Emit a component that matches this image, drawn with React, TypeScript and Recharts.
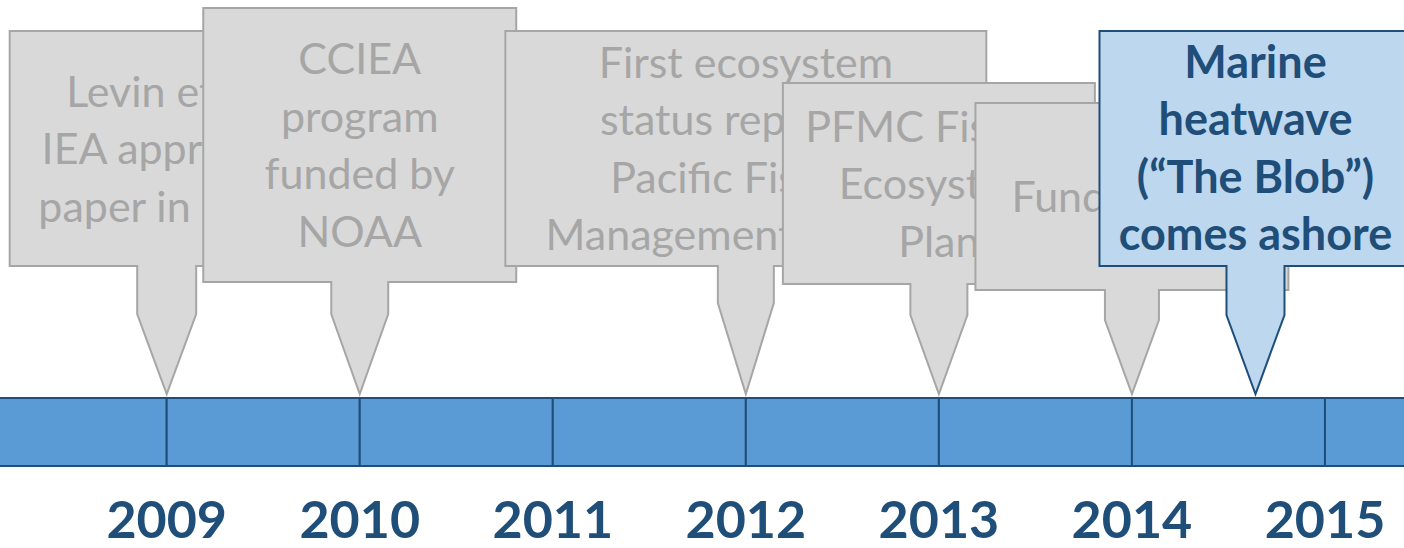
import { ComposedChart, ReferenceArea, Scatter, XAxis, YAxis } from 'recharts'

// timeline data
const yearTicks = [2009, 2010, 2011, 2012, 2013, 2014, 2015]
const segmentStarts = [2008, 2009, 2010, 2011, 2012, 2013, 2014, 2015]

const eventYears = [2009, 2010, 2012, 2013, 2014, 2014.64]
const eventLabels = [
  ['Levin et al.', 'IEA approach', 'paper in PLoS'],
  ['CCIEA', 'program', 'funded by', 'NOAA'],
  ['First ecosystem', 'status report to', 'Pacific Fishery', 'Management Council'],
  ['PFMC Fishery', 'Ecosystem', 'Plan'],
  ['Funding cuts'],
  ['Marine', 'heatwave', '(\u201cThe Blob\u201d)', 'comes ashore'],
]
const eventHighlight = [false, false, false, false, false, true]

const events = eventYears.map((year, i) => ({
  year,
  level: 1,
  lines: eventLabels[i],
  highlight: eventHighlight[i],
  idx: i,
}))

// callout geometry, px above the pointer tip
const calloutLayout = [
  { rise: 363, boxBottom: 128, taper: 80, halfWidth: 157, stemHalf: 29.5 },
  { rise: 386, boxBottom: 112, taper: 80, halfWidth: 156.5, stemHalf: 28.5 },
  { rise: 363, boxBottom: 128, taper: 91, halfWidth: 240.5, stemHalf: 28 },
  { rise: 311, boxBottom: 110, taper: 79, halfWidth: 156, stemHalf: 28.5 },
  { rise: 291, boxBottom: 104, taper: 74, halfWidth: 156.5, stemHalf: 27 },
  { rise: 363, boxBottom: 128, taper: 79, halfWidth: 156, stemHalf: 29 },
]

const FONT = 'Lato, sans-serif'
const DARK_BLUE = '#1F4E79'

function Callout(props: any) {
  const { cx, cy, payload } = props
  const lay = calloutLayout[payload.idx]
  const tipX = cx
  const tipY = cy - 4
  const top = tipY - lay.rise
  const bottom = tipY - lay.boxBottom
  const taperY = tipY - lay.taper
  const left = tipX - lay.halfWidth
  const right = tipX + lay.halfWidth
  const sl = tipX - lay.stemHalf
  const sr = tipX + lay.stemHalf
  const d = `M${left},${top} L${right},${top} L${right},${bottom} L${sr},${bottom} L${sr},${taperY} L${tipX},${tipY} L${sl},${taperY} L${sl},${bottom} L${left},${bottom} Z`
  const hl = payload.highlight
  const lines: string[] = payload.lines
  const mid = (top + bottom) / 2
  return (
    <g>
      <path d={d} fill={hl ? '#BDD7EE' : '#D9D9D9'} stroke={hl ? DARK_BLUE : '#A6A6A6'} strokeWidth={2} />
      {lines.map((ln, i) => (
        <text
          key={i}
          x={tipX}
          y={mid + 15.5 + (i - (lines.length - 1) / 2) * 57.5}
          textAnchor="middle"
          fontFamily={FONT}
          fontSize={hl ? 45 : 43}
          fontWeight={hl ? 700 : 400}
          fill={hl ? DARK_BLUE : '#A6A6A6'}
        >
          {ln}
        </text>
      ))}
    </g>
  )
}

function YearTick(props: any) {
  const { x, y, payload } = props
  return (
    <text x={x} y={y + 72} textAnchor="middle" fontFamily={FONT} fontSize={52} fontWeight={700} fill={DARK_BLUE}>
      {payload.value}
    </text>
  )
}

export default function App() {
  return (
    <div style={{ position: 'absolute', left: 0, top: 0, background: '#fff' }}>
      <ComposedChart width={1404} height={548} margin={{ top: 398, right: 0, bottom: 0, left: 0 }}>
        <XAxis
          type="number"
          dataKey="year"
          domain={[2008.1365, 2015.4093]}
          ticks={yearTicks}
          interval={0}
          axisLine={false}
          tickLine={false}
          tickSize={0}
          tickMargin={0}
          height={82}
          tick={<YearTick />}
        />
        <YAxis type="number" dataKey="level" domain={[0, 1]} hide />
        {segmentStarts.map((s) => (
          <ReferenceArea
            key={s}
            x1={s}
            x2={s + 1}
            y1={0}
            y2={1}
            ifOverflow="visible"
            fill="#5B9BD5"
            fillOpacity={1}
            stroke={DARK_BLUE}
            strokeWidth={2}
          />
        ))}
        <Scatter data={events} isAnimationActive={false} shape={<Callout />} />
      </ComposedChart>
    </div>
  )
}
